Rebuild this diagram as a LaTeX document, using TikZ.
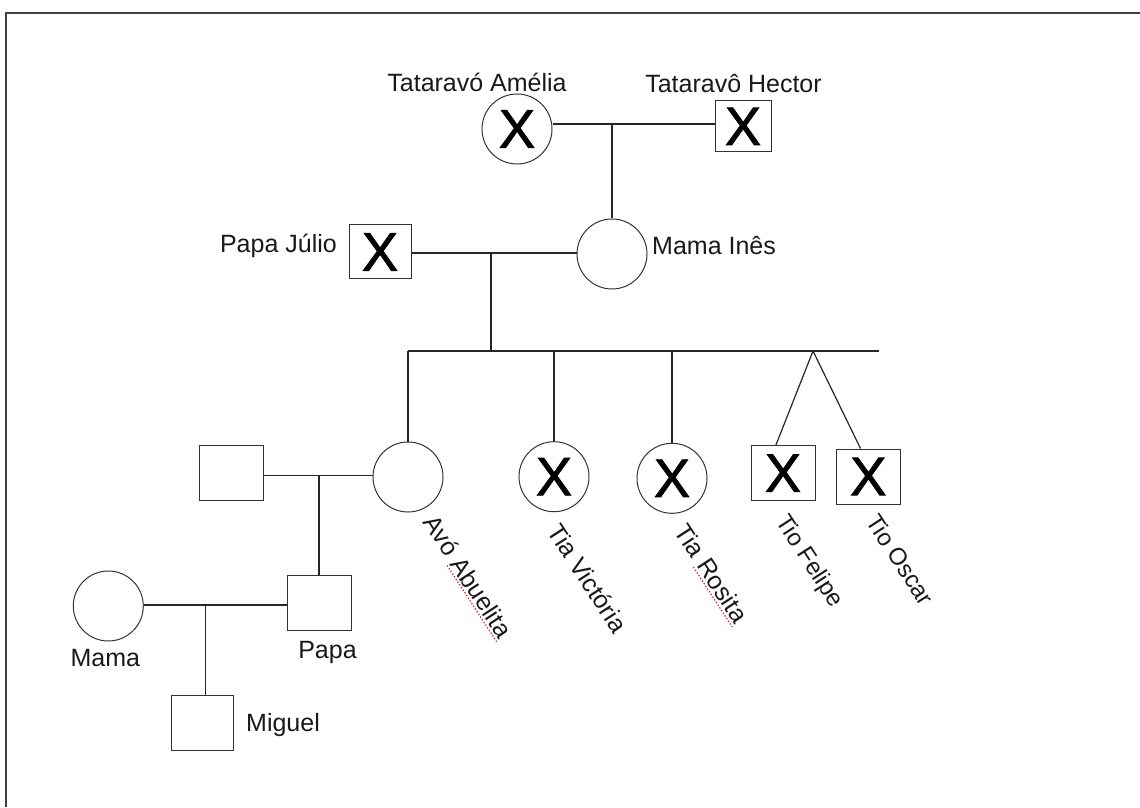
\documentclass[tikz,border=0pt]{standalone}
\usepackage{fontspec}
\setmainfont{Liberation Sans}
\newfontfamily\xmarkfont[FakeBold=1.6]{Liberation Sans}
\usetikzlibrary{calc}
\begin{document}
\begin{tikzpicture}[x=1pt,y=1pt,
  conn/.style={draw=black!85, line width=1.2pt},
  fem/.style={circle, draw=black!80, line width=1pt, minimum size=70pt, inner sep=0pt},
  mal/.style={rectangle, draw=black!80, line width=1pt, minimum width=64pt, minimum height=55pt, inner sep=0pt},
  dead/.style={font=\xmarkfont\fontsize{54}{60}\selectfont},
  lbl/.style={font=\fontsize{25}{30}\selectfont, text=black!90, inner sep=0pt},
  rlbl/.style={lbl, rotate=-57, anchor=base west},
  squig/.style={draw=red, dotted, line width=1.2pt}]
\useasboundingbox (0,0) rectangle (1140,807);
\draw[black!75, line width=2pt] (6,0) -- (6,794) -- (1140,794);
% generation 1
\node[fem, dead] (amelia) at (517,678) {X};
\node[mal, dead, minimum width=56pt, minimum height=51pt] (hector) at (743,680.6) {X};
\node[lbl, anchor=base] (tamelia) at (477,715) {Tataravó Amélia};
\node[lbl, anchor=base] (thector) at (733.5,714) {Tataravô Hector};
\coordinate (m1) at (612,683);
% generation 2
\node[fem] (ines) at (612,553) {};
\node[lbl, anchor=base west] (tines) at (652,552) {Mama Inês};
\node[mal, dead, minimum width=62pt, minimum height=54pt] (julio) at (380,555) {X};
\node[lbl, anchor=base east] (tjulio) at (337,554) {Papa Júlio};
\coordinate (m2) at (491,554);
\coordinate (sib) at (491,456);
\coordinate (sibR) at (879,456);
\coordinate (tw) at (813,456);
% generation 3
\node[fem] (avo) at (408,330) {};
\node[fem, dead] (vic) at (554,330.3) {X};
\node[fem, dead] (ros) at (672,328.7) {X};
\node[mal, dead] (fel) at (783,333.8) {X};
\node[mal, dead] (osc) at (868.3,330.5) {X};
\node[mal] (hus) at (231.3,333.7) {};
\coordinate (m3) at (319,331.5);
% generation 4
\node[mal] (papa) at (319.7,204.5) {};
\node[fem] (mama) at (108.3,201) {};
\coordinate (m4) at (205.7,202);
\node[mal, minimum width=62pt] (miguel) at (202,84.5) {};
% labels
\node[lbl, anchor=base] (tmama) at (105.3,141) {Mama};
\node[lbl, anchor=base] (tpapa) at (327.5,149) {Papa};
\node[lbl, anchor=base west] (tmiguel) at (246,75.3) {Miguel};
\node[rlbl] (tavo) at (422.5,285) {Avó};
\path (tavo.base east) ++(-57:6.95) node[rlbl] (tabu) {Abuelita};
\node[rlbl] (tvic) at (546.5,276) {Tia Victória};
\node[rlbl] (ttia) at (673.5,276) {Tia};
\path (ttia.base east) ++(-57:6.95) node[rlbl] (tros) {Rosita};
\node[rlbl, font=\fontsize{24}{29}\selectfont] (tfel) at (775,286) {Tio Felipe};
\node[rlbl, font=\fontsize{24}{29}\selectfont] (tosc) at (865,286) {Tio Oscar};
\draw[squig] ([shift={(-147:3)}]tabu.base west) -- ([shift={(-147:3)}]tabu.base east);
\draw[squig] ([shift={(-147:3)}]tros.base west) -- ([shift={(-147:3)}]tros.base east);
% connectors
\draw[conn] (amelia.east |- m1) -- (hector.west |- m1);
\draw[conn] (m1) -- (ines.north);
\draw[conn] (julio.east |- m2) -- (ines.west |- m2);
\draw[conn] (m2) -- (sib);
\draw[conn] (avo.north |- sib) -- (sibR);
\draw[conn] (avo.north |- sib) -- (avo.north);
\draw[conn] (vic.north |- sib) -- (vic.north);
\draw[conn] (ros.north |- sib) -- (ros.north);
\draw[conn] (tw) -- ($(fel.north west)!0.39!(fel.north east)$);
\draw[conn] (tw) -- ($(osc.north west)!0.38!(osc.north east)$);
\draw[conn] (hus.east |- m3) -- (avo.west |- m3);
\draw[conn] (m3) -- (m3 |- papa.north);
\draw[conn] (mama.east |- m4) -- (papa.west |- m4);
\draw[conn] (m4) -- (m4 |- miguel.north);
\end{tikzpicture}
\end{document}
